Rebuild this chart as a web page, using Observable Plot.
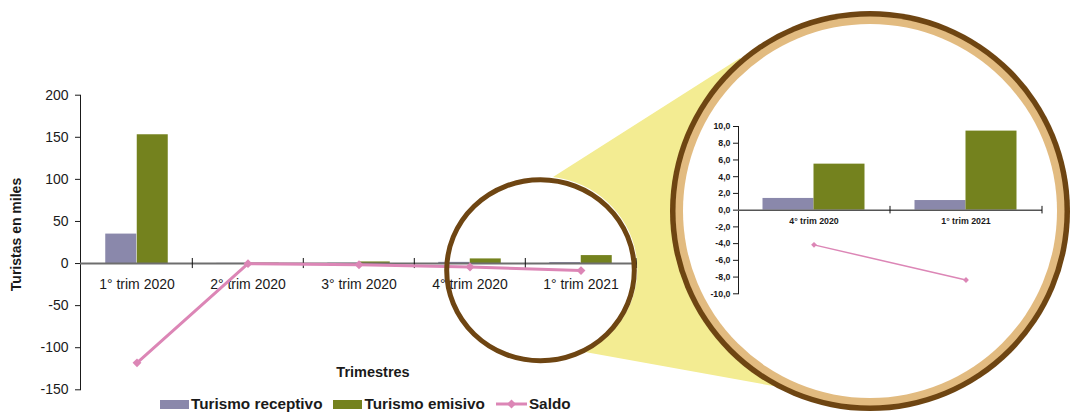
<!DOCTYPE html>
<html>
<head>
<meta charset="utf-8">
<script src="https://cdn.jsdelivr.net/npm/d3@7"></script>
<script src="https://cdn.jsdelivr.net/npm/@observablehq/plot@0.6"></script>
<style>
  html, body { margin: 0; padding: 0; background: #fff; }
  #root { position: relative; width: 1074px; height: 412px; overflow: hidden; font-family: "Liberation Sans", Arial, Helvetica, sans-serif; }
  #main, #overlay, #inset, #legend { position: absolute; }
  #main { left: 0; top: 0; }
  #overlay { left: 0; top: 0; }
  #inset { left: 690px; top: 110px; }
  #legend { left: 160px; top: 396px; height: 16px; display: flex; align-items: center; font-weight: bold; font-size: 15.3px; color: #1a1a1a; white-space: nowrap; }
  .sw { display: inline-block; width: 29px; height: 9px; margin-right: 2px; }
  .item { display: flex; align-items: center; margin-right: 11px; }
</style>
</head>
<body>
<div id="root">
  <div id="main"></div>
  <svg id="overlay" width="1074" height="412"></svg>
  <div id="inset"></div>
  <div id="legend"></div>
</div>
<script>
// ---- Data ----
const categories = ["1° trim 2020", "2° trim 2020", "3° trim 2020", "4° trim 2020", "1° trim 2021"];
const receptivo = [35, 0.2, 0.4, 1.4, 1.15];
const emisivo = [153, 0.3, 1.9, 5.5, 9.45];
const saldo = [-118, -0.1, -1.5, -4.15, -8.35];
const yTicks = [-150, -100, -50, 0, 50, 100, 150, 200];

const insetCategories = ["4° trim 2020", "1° trim 2021"];
const insetReceptivo = [1.4, 1.15];
const insetEmisivo = [5.5, 9.45];
const insetSaldo = [-4.15, -8.35];
const insetTicks = [-10, -8, -6, -4, -2, 0, 2, 4, 6, 8, 10];

const seriesNames = ["Turismo receptivo", "Turismo emisivo", "Saldo"];

// ---- Styles ----
const cRecep = "#8a88ab";
const cEmis = "#74821e";
const cSaldo = "#dc86b6";
const brown = "#6e4512";
const tan = "#e2bb80";
const yellow = "#f3ec92";
const font = "'Liberation Sans', Arial, Helvetica, sans-serif";

const rows = categories.map((c, i) => ({cat: c, receptivo: receptivo[i], emisivo: emisivo[i], saldo: saldo[i]}));
const insetRows = insetCategories.map((c, i) => ({cat: c, receptivo: insetReceptivo[i], emisivo: insetEmisivo[i], saldo: insetSaldo[i]}));

// ---- Main chart ----
const step = (637 - 80) / 5;
const main = Plot.plot({
  width: 660,
  height: 396,
  marginLeft: 80,
  marginRight: 23,
  marginTop: 94.7,
  marginBottom: 6.7,
  style: {fontFamily: font, fontSize: "14px", color: "#1a1a1a", background: "transparent", overflow: "visible"},
  x: {domain: categories, paddingInner: 0.717, paddingOuter: 0.3585, axis: null},
  y: {domain: [-150, 200], ticks: yTicks, tickFormat: d => String(d), tickSize: 5, tickPadding: 7, line: true, label: null},
  marks: [
    Plot.barY(rows, {x: "cat", y: "receptivo", fill: cRecep, dx: -15.75}),
    Plot.barY(rows, {x: "cat", y: "emisivo", fill: cEmis, dx: 15.75}),
    Plot.ruleY([0], {stroke: "#6e6e6e", strokeWidth: 2}),
    Plot.ruleX(categories.slice(1), {x: d => d, y1: -6, y2: 6, dx: -step / 2, stroke: "#111"}),
    Plot.ruleX(categories.slice(4), {x: d => d, y1: -6, y2: 6, dx: step / 2, stroke: "#111"}),
    Plot.text(rows, {x: "cat", y: () => 0, text: "cat", dy: 21, fontSize: 14}),
    Plot.line(rows, {x: "cat", y: "saldo", stroke: cSaldo, strokeWidth: 3}),
    Plot.dot(rows, {x: "cat", y: "saldo", symbol: "diamond2", r: 4, fill: cSaldo, stroke: "none"}),
    Plot.text(["Trimestres"], {text: d => d, frameAnchor: "bottom", textAnchor: "middle", lineAnchor: "middle", dx: 14, dy: -17, fontWeight: "bold", fontSize: 14.5}),
    Plot.text(["Turistas en miles"], {text: d => d, frameAnchor: "left", textAnchor: "middle", lineAnchor: "middle", rotate: -90, dx: -64, dy: -8, fontWeight: "bold", fontSize: 14})
  ]
});
document.getElementById("main").appendChild(main);

// ---- Magnifier decoration ----
const ov = d3.select("#overlay");
ov.append("path")
  .attr("d", "M553,177 L740,58 L870,211 L773,386 L585,352 A96.3 93 0 0 0 553 177 Z")
  .attr("fill", yellow);
ov.append("circle").attr("cx", 870).attr("cy", 211).attr("r", 200).attr("fill", brown);
ov.append("circle").attr("cx", 870).attr("cy", 211).attr("r", 194.5).attr("fill", tan);
ov.append("circle").attr("cx", 870).attr("cy", 211).attr("r", 187).attr("fill", "#fff");
ov.append("ellipse").attr("cx", 540.5).attr("cy", 270.2).attr("rx", 93.8).attr("ry", 90.5)
  .attr("fill", "none").attr("stroke", brown).attr("stroke-width", 5);

// ---- Inset chart ----
const istep = (352 - 48) / 2;
const inset = Plot.plot({
  width: 370,
  height: 200,
  marginLeft: 48,
  marginRight: 18,
  marginTop: 16,
  marginBottom: 16.7,
  style: {fontFamily: font, fontSize: "8.8px", fontWeight: "bold", color: "#1a1a1a", background: "transparent", overflow: "visible"},
  x: {domain: insetCategories, paddingInner: 0.664, paddingOuter: 0.332, axis: null},
  y: {domain: [-10, 10], ticks: insetTicks, tickFormat: d => d.toFixed(1).replace(".", ","), tickSize: 5, tickPadding: 3, line: true, label: null},
  marks: [
    Plot.barY(insetRows, {x: "cat", y: "receptivo", fill: cRecep, dx: -25.5}),
    Plot.barY(insetRows, {x: "cat", y: "emisivo", fill: cEmis, dx: 25.5}),
    Plot.ruleY([0], {stroke: "#555", strokeWidth: 1.5}),
    Plot.ruleX(insetCategories.slice(1), {x: d => d, y1: -0.45, y2: 0.45, dx: -istep / 2, stroke: "#111"}),
    Plot.ruleX(insetCategories.slice(1), {x: d => d, y1: -0.45, y2: 0.45, dx: istep / 2, stroke: "#111"}),
    Plot.text(insetRows, {x: "cat", y: () => 0, text: "cat", dy: 11.5, fontSize: 8.8, fontWeight: "bold"}),
    Plot.line(insetRows, {x: "cat", y: "saldo", stroke: cSaldo, strokeWidth: 1.5}),
    Plot.dot(insetRows, {x: "cat", y: "saldo", symbol: "diamond2", r: 2.6, fill: cSaldo, stroke: "none"})
  ]
});
document.getElementById("inset").appendChild(inset);

// ---- Legend ----
const legend = d3.select("#legend");
const colors = [cRecep, cEmis, cSaldo];
seriesNames.forEach((name, i) => {
  const item = legend.append("div").attr("class", "item");
  if (i < 2) {
    item.append("span").attr("class", "sw").style("background", colors[i]);
  } else {
    const s = item.append("svg").attr("width", 31).attr("height", 12).style("margin-right", "2px");
    s.append("line").attr("x1", 0).attr("x2", 31).attr("y1", 6).attr("y2", 6).attr("stroke", colors[i]).attr("stroke-width", 3);
    s.append("path").attr("d", "M15.5,1.5 L20,6 L15.5,10.5 L11,6 Z").attr("fill", colors[i]);
  }
  item.append("span").text(name);
});
</script>
</body>
</html>
